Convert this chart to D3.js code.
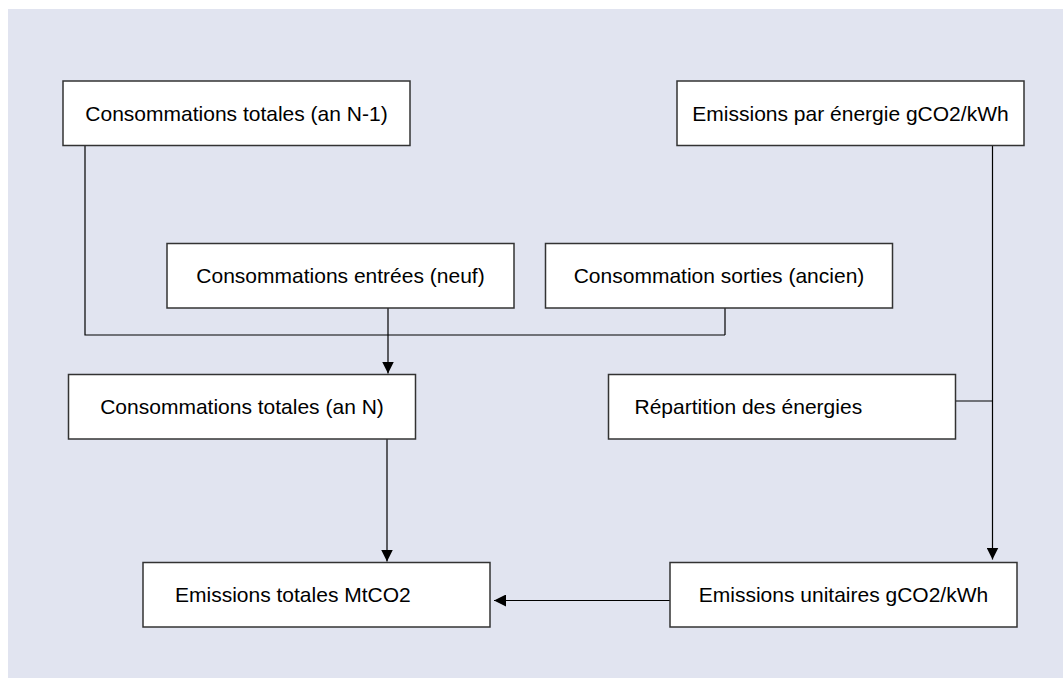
<!DOCTYPE html>
<html>
<head>
<meta charset="utf-8">
<script src="https://cdn.jsdelivr.net/npm/d3@7"></script>
<style>
  body { margin: 0; background: #fff; }
  text { font-family: "Liberation Sans", Arial, sans-serif; }
</style>
</head>
<body>
<script>
// box labels (the flowchart nodes)
const labels = [
  "Consommations totales (an N-1)",
  "Emissions par énergie gCO2/kWh",
  "Consommations entrées (neuf)",
  "Consommation sorties (ancien)",
  "Consommations totales (an N)",
  "Répartition des énergies",
  "Emissions totales MtCO2",
  "Emissions unitaires gCO2/kWh"
];

// box top-left corners, same order as labels
const boxX = [63, 677, 167, 545.5, 68.5, 608.5, 143, 670];
const boxY = [81, 81, 243.5, 243.5, 374.5, 374.5, 562.5, 562.5];

// text placement inside each box: null = centred, number = left padding
const textPad = [null, null, null, null, null, 26, 32, null];

const width = 1063,
  height = 678,
  boxW = 347,
  boxH = 64.5,
  fontSize = 21,
  busY = 335;

const nodes = labels.map((l, i) => ({
  label: l, x: boxX[i], y: boxY[i], pad: textPad[i]
}));
const N = i => nodes[i];

// connectors: list of points, arrow flag
const links = [
  { pts: [[N(0).x + 22, N(0).y + boxH], [N(0).x + 22, busY], [N(3).x + 179.5, busY]], arrow: false },
  { pts: [[N(3).x + 179.5, N(3).y + boxH], [N(3).x + 179.5, busY]], arrow: false },
  { pts: [[N(2).x + 221, N(2).y + boxH], [N(2).x + 221, N(4).y - 1]], arrow: true },
  { pts: [[N(4).x + 318.5, N(4).y + boxH], [N(4).x + 318.5, N(6).y - 1]], arrow: true },
  { pts: [[N(1).x + 315.5, N(1).y + boxH], [N(1).x + 315.5, N(7).y - 3]], arrow: true },
  { pts: [[N(5).x + boxW, N(5).y + 26.5], [N(1).x + 315.5, N(5).y + 26.5]], arrow: false },
  { pts: [[N(7).x, N(7).y + 38], [N(6).x + boxW + 4, N(7).y + 38]], arrow: true }
];

const svg = d3.select("body").append("svg")
  .attr("width", width)
  .attr("height", height);

svg.append("defs").append("marker")
  .attr("id", "arr")
  .attr("markerUnits", "userSpaceOnUse")
  .attr("viewBox", "0 0 12 12")
  .attr("refX", 12)
  .attr("refY", 6)
  .attr("markerWidth", 12)
  .attr("markerHeight", 12)
  .attr("orient", "auto")
  .append("path")
  .attr("d", "M0,0L12,6L0,12Z")
  .attr("fill", "#000");

// background panel
svg.append("rect")
  .attr("x", 8)
  .attr("y", 9)
  .attr("width", width - 8)
  .attr("height", height - 9)
  .attr("fill", "#e1e4f0");

const line = d3.line();

svg.append("g")
  .attr("fill", "none")
  .attr("stroke", "#000")
  .attr("stroke-width", 1.2)
  .selectAll("path")
  .data(links)
  .join("path")
  .attr("d", d => line(d.pts))
  .attr("marker-end", d => d.arrow ? "url(#arr)" : null);

const box = svg.append("g")
  .selectAll("g")
  .data(nodes)
  .join("g")
  .attr("transform", d => `translate(${d.x},${d.y})`);

box.append("rect")
  .attr("width", boxW)
  .attr("height", boxH)
  .attr("fill", "#fff")
  .attr("stroke", "#333")
  .attr("stroke-width", 1.5);

box.append("text")
  .attr("x", d => d.pad == null ? boxW / 2 : d.pad)
  .attr("y", boxH / 2 + fontSize * 0.35)
  .attr("text-anchor", d => d.pad == null ? "middle" : "start")
  .attr("font-size", fontSize)
  .attr("fill", "#000")
  .text(d => d.label);
</script>
</body>
</html>
